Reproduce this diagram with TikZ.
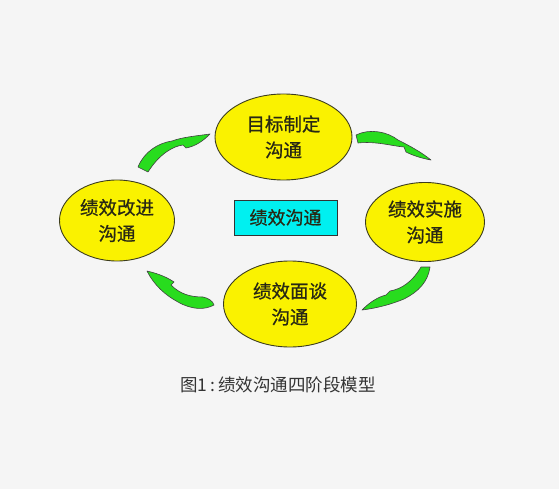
\documentclass[tikz,border=0pt]{standalone}
\usepackage{fontspec}
\newfontfamily\cjk{Noto Sans CJK SC}
\newfontfamily\cjkm[FakeBold=0.8]{Noto Sans CJK SC}
\definecolor{bg}{RGB}{245,245,245}
\definecolor{ellfill}{RGB}{250,242,0}
\definecolor{ellline}{RGB}{60,60,30}
\definecolor{boxfill}{RGB}{0,240,240}
\definecolor{leaf}{RGB}{40,220,30}
\definecolor{txt}{RGB}{40,40,20}
\tikzset{
  stage/.style={ellipse, draw=ellline, line width=0.9pt, fill=ellfill,
     text=txt, font=\cjkm\fontsize{18.5}{26}\selectfont, align=center, inner sep=0pt},
  center/.style={draw=black!80, line width=0.9pt, fill=boxfill, text=txt,
     font=\cjkm\fontsize{18}{20}\selectfont, minimum width=103pt, minimum height=35pt, inner sep=0pt},
  leafarrow/.style={fill=leaf, draw=black!75, line width=0.6pt, line join=round},
  caption/.style={text=black!80, font=\cjk\fontsize{17.5}{18}\selectfont, inner sep=0pt}
}
\usetikzlibrary{shapes.geometric}
\begin{document}
\begin{tikzpicture}[x=1pt,y=-1pt]
\fill[bg] (0,0) rectangle (559,489);
\useasboundingbox (0,0) rectangle (559,489);

\node[stage, minimum width=137pt, minimum height=86pt] (top) at (283.5,137) {目标制定\\沟通};
\node[stage, minimum width=115pt, minimum height=81pt] (left) at (117,220.5) {绩效改进\\沟通};
\node[stage, minimum width=119pt, minimum height=79pt] (right) at (425,222) {绩效实施\\沟通};
\node[stage, minimum width=133pt, minimum height=86pt] (bottom) at (290,304) {绩效面谈\\沟通};

\node[center] (mid) at (285.5,217.5) {绩效沟通};

\node[caption] (cap) at (278,385) {图1\,:\,绩效沟通四阶段模型};

% top-left arrow (left -> top)
\path[leafarrow] (138,167) .. controls (144,152) and (158,143) .. (172,141)
  .. controls (183,137) and (196,136) .. (210,134)
  .. controls (203,141) and (196,146) .. (186,148) -- (183,145)
  .. controls (174,146) and (160,153) .. (148,172) -- cycle;

% top-right arrow (top -> right)
\path[leafarrow] (356,135) .. controls (370,128) and (388,132) .. (398,140)
  .. controls (410,146) and (421,152) .. (431,160)
  .. controls (420,158) and (412,155) .. (406,152) -- (404,147)
  .. controls (392,146) and (376,141) .. (358,143) -- cycle;

% bottom-right arrow (right -> bottom)
\path[leafarrow] (430,267) .. controls (428,282) and (418,292) .. (404,299)
  .. controls (392,304) and (378,308) .. (362,310)
  .. controls (370,302) and (378,297) .. (386,295) -- (390,291)
  .. controls (402,289) and (413,281) .. (421,267) -- cycle;

% bottom-left arrow (bottom -> left)
\path[leafarrow] (147,271) .. controls (160,274) and (168,278) .. (174,282) -- (171,285)
  .. controls (180,294) and (190,297) .. (203,297)
  .. controls (208,298) and (213,301) .. (214,305)
  .. controls (205,310) and (192,310) .. (178,302)
  .. controls (165,295) and (154,285) .. cycle;
\end{tikzpicture}
\end{document}
